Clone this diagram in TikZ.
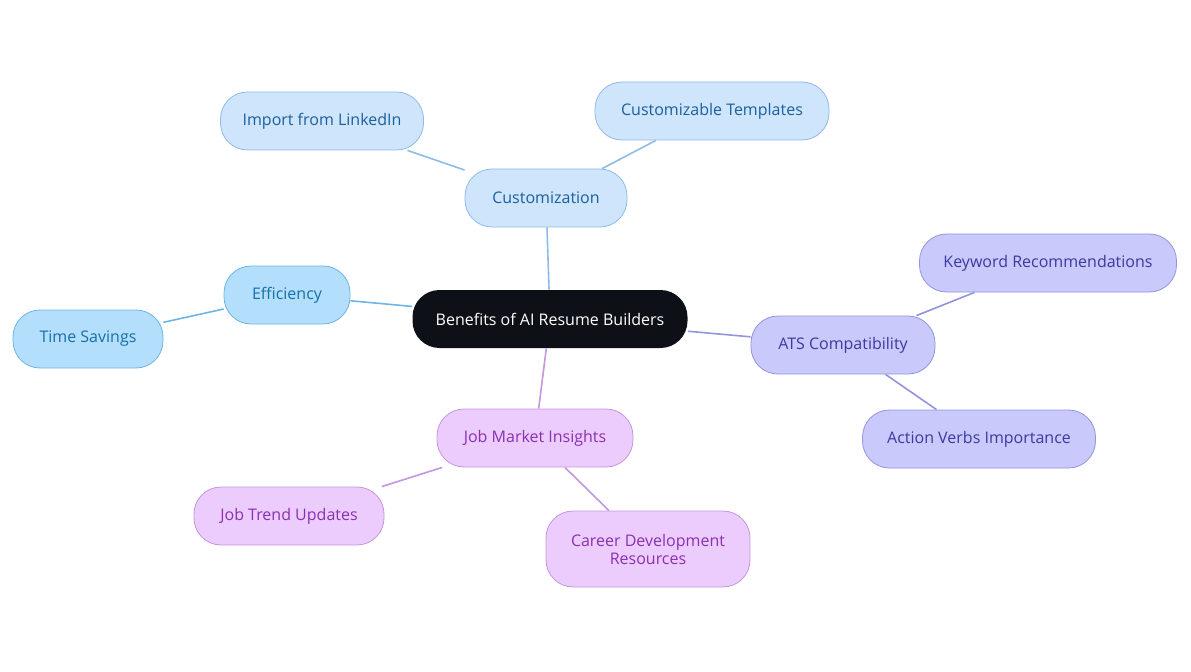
\documentclass[tikz,border=0pt]{standalone}
\usepackage{fontspec}
\setmainfont{Open Sans}
\usetikzlibrary{positioning}
\definecolor{bluefill}{HTML}{CFE5FB}
\definecolor{blueline}{HTML}{8FBBE6}
\definecolor{bluetext}{HTML}{1A5FA0}
\definecolor{skyfill}{HTML}{B3DEFC}
\definecolor{skyline}{HTML}{6FB5E3}
\definecolor{skytext}{HTML}{1670A8}
\definecolor{violfill}{HTML}{C9C9FC}
\definecolor{violline}{HTML}{9494DE}
\definecolor{violtext}{HTML}{3A3AA0}
\definecolor{pinkfill}{HTML}{ECCCFC}
\definecolor{pinkline}{HTML}{C596E0}
\definecolor{pinktext}{HTML}{8A30B0}
\definecolor{rootfill}{HTML}{0D1117}
\tikzset{
  box/.style={rounded corners=27bp, minimum height=58bp, align=center, font=\fontsize{16bp}{18bp}\selectfont, line width=0.8bp},
  bluebox/.style={box, fill=bluefill, draw=blueline, text=bluetext},
  skybox/.style={box, fill=skyfill, draw=skyline, text=skytext},
  violbox/.style={box, fill=violfill, draw=violline, text=violtext},
  pinkbox/.style={box, fill=pinkfill, draw=pinkline, text=pinktext},
  link/.style={line width=1.6bp}
}
\begin{document}
\begin{tikzpicture}[x=1bp,y=-1bp]
  \useasboundingbox (0,0) rectangle (1191,672);
  % Nodes
  \node[box, fill=rootfill, text=white, minimum width=275bp] (root) at (550,319) {Benefits of AI Resume Builders};
  \node[bluebox, minimum width=162bp] (cust) at (546,198) {Customization};
  \node[bluebox, minimum width=203bp] (linkedin) at (322,121) {Import from LinkedIn};
  \node[bluebox, minimum width=234bp] (templ) at (712,111) {Customizable Templates};
  \node[skybox, minimum width=126bp] (eff) at (287,295) {Efficiency};
  \node[skybox, minimum width=150bp] (time) at (88,339) {Time Savings};
  \node[violbox, minimum width=184bp] (ats) at (843,345) {ATS Compatibility};
  \node[violbox, minimum width=257bp] (keyw) at (1048,263) {Keyword Recommendations};
  \node[violbox, minimum width=233bp] (verbs) at (979,439) {Action Verbs Importance};
  \node[pinkbox, minimum width=196bp] (job) at (535,438) {Job Market Insights};
  \node[pinkbox, minimum width=190bp] (trend) at (289,516) {Job Trend Updates};
  \node[pinkbox, minimum width=204bp, minimum height=76bp] (career) at (648,549) {Career Development\\Resources};
  % Edges
  \draw[link, blueline] (root) -- (cust);
  \draw[link, blueline] (cust) -- (linkedin);
  \draw[link, blueline] (cust) -- (templ);
  \draw[link, skyline] (root) -- (eff);
  \draw[link, skyline] (eff) -- (time);
  \draw[link, violline] (root) -- (ats);
  \draw[link, violline] (ats) -- (keyw);
  \draw[link, violline] (ats) -- (verbs);
  \draw[link, pinkline] (root) -- (job);
  \draw[link, pinkline] (job) -- (trend);
  \draw[link, pinkline] (job) -- (career);
\end{tikzpicture}
\end{document}
